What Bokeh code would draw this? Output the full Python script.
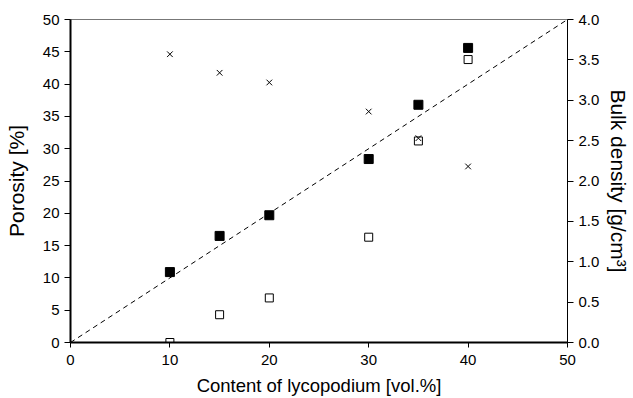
from bokeh.plotting import figure
from bokeh.models import Range1d, LinearAxis, FixedTicker, PrintfTickFormatter
from bokeh.embed import file_html
from bokeh.resources import INLINE

content = [10, 15, 20, 30, 35, 40]
porosity_filled = [10.9, 16.5, 19.7, 28.4, 36.8, 45.6]
porosity_open = [0.0, 4.3, 6.9, 16.3, 31.2, 43.8]
bulk_density = [3.57, 3.34, 3.22, 2.86, 2.53, 2.18]
ref_x = [0, 50]
ref_y = [0, 50]

x_ticks = [0, 10, 20, 30, 40, 50]
y_ticks = [0, 5, 10, 15, 20, 25, 30, 35, 40, 45, 50]
bd_ticks = [0, 0.5, 1.0, 1.5, 2.0, 2.5, 3.0, 3.5, 4.0]

FONT = "Liberation Sans"

p = figure(width=633, height=398, output_backend="svg", toolbar_location=None,
           x_range=Range1d(0, 50), y_range=Range1d(0, 50),
           min_border_left=70, min_border_right=66, min_border_top=19, min_border_bottom=56)
p.extra_y_ranges = {"bd": Range1d(0, 4)}

p.xgrid.visible = False
p.ygrid.visible = False
p.outline_line_color = "#777777"
p.outline_line_width = 1
p.background_fill_color = "white"
p.border_fill_color = "white"

p.line(ref_x, ref_y, line_color="black", line_dash="5 4", line_width=1)
p.scatter(content, porosity_filled, marker="square", size=9, fill_color="black", line_color="black")
p.scatter(content, porosity_open, marker="square", size=8, fill_color="white", line_color="black", line_width=1)
p.scatter(content, bulk_density, marker="x", size=8, line_color="black", line_width=1, y_range_name="bd")

def style(ax, lw, title_size):
    ax.axis_line_color = "black"
    ax.axis_line_width = lw
    ax.major_tick_line_color = "black"
    ax.major_tick_out = 6
    ax.major_tick_in = 0
    ax.minor_tick_line_color = None
    ax.major_label_text_font = FONT
    ax.major_label_text_font_size = "15px"
    ax.major_label_text_color = "black"
    ax.major_label_standoff = 5
    ax.axis_label_text_font = FONT
    ax.axis_label_text_font_size = title_size
    ax.axis_label_text_font_style = "normal"
    ax.axis_label_text_color = "black"

xa = p.xaxis[0]
ya = p.yaxis[0]
style(xa, 2, "18.5px")
style(ya, 2, "21px")
xa.ticker = FixedTicker(ticks=x_ticks)
ya.ticker = FixedTicker(ticks=y_ticks)
xa.axis_label = "Content of lycopodium [vol.%]"
ya.axis_label = "Porosity [%]"
xa.major_tick_out = 5
xa.major_label_standoff = 7
xa.axis_label_standoff = 7
ya.axis_label_standoff = 12

ra = LinearAxis(y_range_name="bd", axis_label="Bulk density [g/cm³]")
style(ra, 1, "21px")
ra.ticker = FixedTicker(ticks=bd_ticks)
ra.formatter = PrintfTickFormatter(format="%.1f")
ra.major_label_standoff = 5
ra.axis_label_standoff = 5
p.add_layout(ra, "right")

open("out.html", "w").write(file_html(p, INLINE))
